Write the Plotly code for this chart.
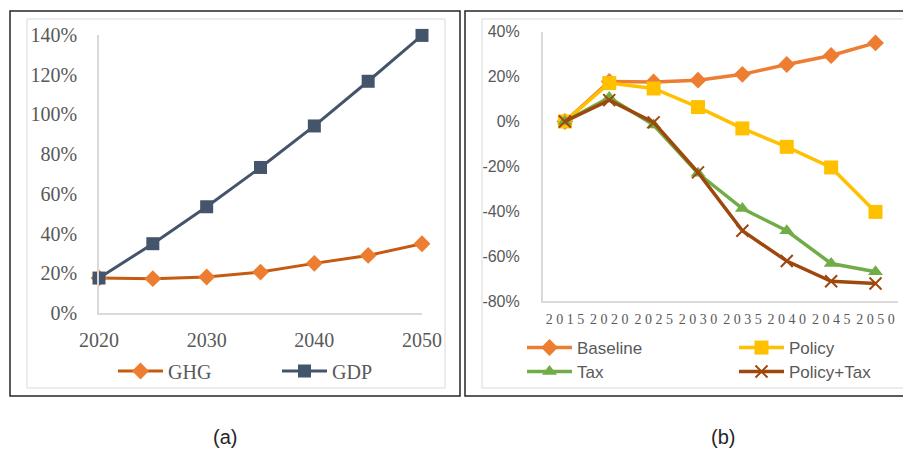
import plotly.graph_objects as go

# ---------------- data ----------------
years_a = [2020, 2025, 2030, 2035, 2040, 2045, 2050]
ghg = [17.6, 17.3, 18.1, 20.6, 25.0, 29.0, 34.9]
gdp = [17.6, 34.9, 53.5, 73.3, 94.2, 116.7, 139.8]
xticks_a = [2020, 2030, 2040, 2050]
yticks_a = [0, 20, 40, 60, 80, 100, 120, 140]

years_b = ["2015", "2020", "2025", "2030", "2035", "2040", "2045", "2050"]
baseline = [0, 17.8, 17.6, 18.4, 21.0, 25.4, 29.4, 35.0]
policy = [0, 17.1, 14.7, 6.4, -3.1, -11.3, -20.5, -40.3]
tax = [0, 10.7, -1.6, -23.1, -38.8, -48.7, -63.3, -67.0]
policy_tax = [0, 9.5, -0.4, -22.7, -48.7, -62.2, -71.2, -72.2]
yticks_b = [40, 20, 0, -20, -40, -60, -80]

W, H = 903, 449
def px(x):
    return x / W
def py(y):
    return 1 - y / H

GREY_TXT = "#595959"
AXIS_GREY = "#D9D9D9"

fig = go.Figure()

# panel (a)
fig.add_trace(go.Scatter(x=years_a, y=ghg, name="GHG", mode="lines+markers",
                         line=dict(color="#C55A11", width=3),
                         marker=dict(symbol="diamond", size=13, color="#ED7D31"),
                         cliponaxis=False, xaxis="x", yaxis="y", legend="legend"))
fig.add_trace(go.Scatter(x=years_a, y=gdp, name="GDP", mode="lines+markers",
                         line=dict(color="#44546A", width=3),
                         marker=dict(symbol="square", size=13, color="#44546A"),
                         cliponaxis=False, xaxis="x", yaxis="y", legend="legend"))

# panel (b)
fig.add_trace(go.Scatter(x=years_b, y=baseline, name="Baseline", mode="lines+markers",
                         line=dict(color="#ED7D31", width=3.5),
                         marker=dict(symbol="diamond", size=13, color="#ED7D31"),
                         cliponaxis=False, xaxis="x2", yaxis="y2", legend="legend2"))
fig.add_trace(go.Scatter(x=years_b, y=policy, name="Policy", mode="lines+markers",
                         line=dict(color="#FFC000", width=3.5),
                         marker=dict(symbol="square", size=14, color="#FFC000"),
                         cliponaxis=False, xaxis="x2", yaxis="y2", legend="legend2"))
fig.add_trace(go.Scatter(x=years_b, y=tax, name="Tax", mode="lines+markers",
                         line=dict(color="#70AD47", width=3.5),
                         marker=dict(symbol="triangle-up", size=13, color="#70AD47"),
                         cliponaxis=False, xaxis="x2", yaxis="y2", legend="legend3"))
fig.add_trace(go.Scatter(x=years_b, y=policy_tax, name="Policy+Tax", mode="lines+markers",
                         line=dict(color="#9E480E", width=3.5),
                         marker=dict(symbol="x-thin", size=12, color="#9E480E",
                                     line=dict(color="#9E480E", width=2)),
                         cliponaxis=False, xaxis="x2", yaxis="y2", legend="legend3"))

serif = "Liberation Serif"
sans = "Liberation Sans"

fig.update_layout(
    width=W, height=H,
    margin=dict(l=0, r=0, t=0, b=0, autoexpand=False),
    paper_bgcolor="white", plot_bgcolor="white",
    showlegend=True,
    xaxis=dict(domain=[px(99), px(422)], range=[2020, 2050], tickvals=xticks_a,
               ticktext=[str(v) for v in xticks_a], tickangle=0, automargin=False,
               showgrid=False, zeroline=False, showline=True, linecolor=AXIS_GREY, linewidth=1.5,
               ticks="", ticklabelstandoff=8,
               tickfont=dict(family=serif, size=20, color=GREY_TXT), anchor="y"),
    yaxis=dict(domain=[py(313), py(35)], range=[0, 140], tickvals=yticks_a,
               ticktext=[f"{v}%" for v in yticks_a], automargin=False,
               showgrid=False, zeroline=False, showline=True, linecolor=AXIS_GREY, linewidth=1.5,
               ticks="", ticklabelstandoff=16,
               tickfont=dict(family=serif, size=20, color=GREY_TXT), anchor="x"),
    xaxis2=dict(domain=[px(542.7), px(897.7)], type="category", range=[-0.5, 7.5],
                tickvals=years_b, ticktext=[" ".join(y) for y in years_b], tickangle=0,
                automargin=False,
                showgrid=False, zeroline=False, showline=True, linecolor=AXIS_GREY, linewidth=1.5,
                ticks="", ticklabelstandoff=4,
                tickfont=dict(family=serif, size=14, color=GREY_TXT), anchor="y2"),
    yaxis2=dict(domain=[py(301), py(31.7)], range=[-80, 40], tickvals=yticks_b,
                ticktext=[f"{v}%" for v in yticks_b], automargin=False,
                showgrid=False, zeroline=False, showline=True, linecolor=AXIS_GREY, linewidth=1.5,
                ticks="", ticklabelstandoff=18,
                tickfont=dict(family=sans, size=16, color=GREY_TXT), anchor="x2"),
    legend=dict(orientation="h", x=px(113), y=py(371), xanchor="left", yanchor="middle",
                entrywidth=104, entrywidthmode="pixels", itemwidth=45,
                font=dict(family=serif, size=20, color=GREY_TXT), bgcolor="rgba(0,0,0,0)",
                itemclick=False, itemdoubleclick=False),
    legend2=dict(orientation="h", x=px(522), y=py(348), xanchor="left", yanchor="middle",
                 entrywidth=152, entrywidthmode="pixels", itemwidth=45,
                 font=dict(family=sans, size=17, color=GREY_TXT), bgcolor="rgba(0,0,0,0)",
                 itemclick=False, itemdoubleclick=False),
    legend3=dict(orientation="h", x=px(522), y=py(372), xanchor="left", yanchor="middle",
                 entrywidth=152, entrywidthmode="pixels", itemwidth=45,
                 font=dict(family=sans, size=17, color=GREY_TXT), bgcolor="rgba(0,0,0,0)",
                 itemclick=False, itemdoubleclick=False),
    shapes=[
        dict(type="rect", xref="paper", yref="paper", x0=px(27), x1=px(445), y0=py(388), y1=py(19),
             line=dict(color=AXIS_GREY, width=1), layer="below"),
        dict(type="rect", xref="paper", yref="paper", x0=px(10), x1=px(460), y0=py(396), y1=py(11),
             line=dict(color="#262626", width=1.5), layer="below"),
        dict(type="rect", xref="paper", yref="paper", x0=px(482), x1=px(915), y0=py(388), y1=py(19),
             line=dict(color=AXIS_GREY, width=1), layer="below"),
        dict(type="rect", xref="paper", yref="paper", x0=px(465), x1=px(920), y0=py(396), y1=py(11),
             line=dict(color="#262626", width=1.5), layer="below"),
    ],
    annotations=[
        dict(text="(a)", x=px(225), y=py(437), xref="paper", yref="paper", showarrow=False,
             xanchor="center", yanchor="middle",
             font=dict(family=sans, size=20, color="#262626")),
        dict(text="(b)", x=px(723), y=py(437), xref="paper", yref="paper", showarrow=False,
             xanchor="center", yanchor="middle",
             font=dict(family=sans, size=20, color="#262626")),
    ],
)

fig.write_html("out.html", config={"displayModeBar": False},
               post_script="document.body.style.margin='0';document.body.style.overflow='hidden';")
